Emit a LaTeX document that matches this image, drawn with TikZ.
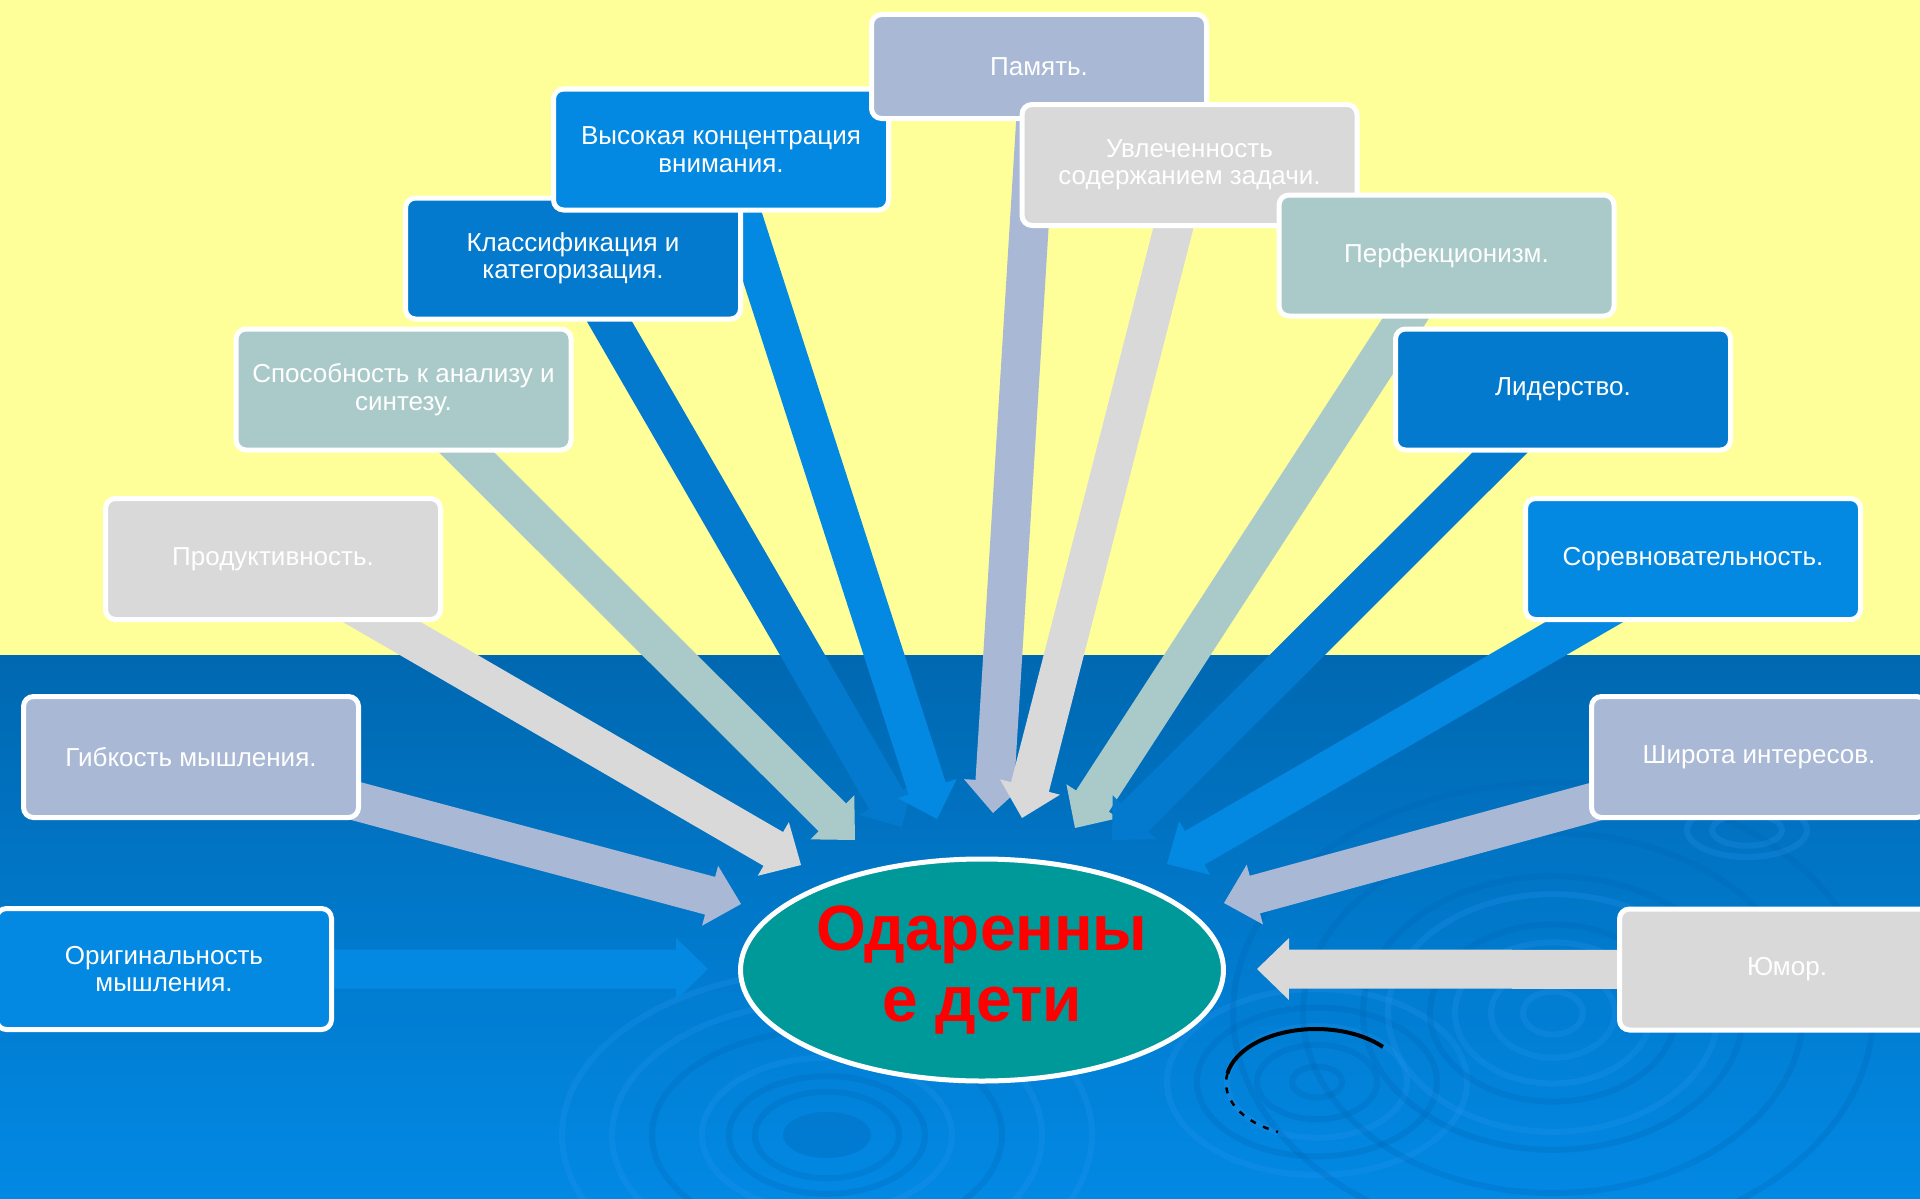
\documentclass[tikz,border=0pt]{standalone}
\usepackage{fontspec}
\setmainfont{Liberation Sans}
\usetikzlibrary{shapes.geometric,calc}
\pgfdeclarelayer{bglayer}
\pgfdeclarelayer{arrowlayer}
\pgfsetlayers{bglayer,arrowlayer,main}
\definecolor{yel}{RGB}{255,255,153}
\definecolor{lav}{RGB}{169,184,212}
\definecolor{lgray}{RGB}{217,217,217}
\definecolor{tealgray}{RGB}{170,202,202}
\definecolor{dblue}{RGB}{4,122,206}
\definecolor{bblue}{RGB}{4,137,227}
\definecolor{watertop}{RGB}{0,104,177}
\definecolor{watermid}{RGB}{0,122,207}
\definecolor{waterbot}{RGB}{2,137,228}
\definecolor{ovalfill}{RGB}{0,153,153}
\definecolor{ripdark}{RGB}{0,100,180}
\definecolor{riplight}{RGB}{40,150,240}
\newcommand{\blockarrow}[3]{%
  \coordinate (ab) at ($(#2)!32pt!(#1.center)$);
  \fill[#3] ($(#1.center)!19.5pt!90:(#2)$) -- ($(ab)!19.5pt!90:(#2)$) -- ($(ab)!31pt!90:(#2)$) -- (#2)
    -- ($(ab)!31pt!-90:(#2)$) -- ($(ab)!19.5pt!-90:(#2)$) -- ($(#1.center)!19.5pt!-90:(#2)$) -- cycle;
}
\begin{document}
\begin{tikzpicture}[x=1pt,y=-1pt,
  box/.style={rectangle, rounded corners=10pt, draw=white, line width=5pt,
    minimum width=335pt, minimum height=121pt, inner sep=0pt, text=white,
    align=center, font=\fontsize{26}{27.5}\selectfont},
  ripD/.style={draw=ripdark, line width=6pt, opacity=0.25},
  ripL/.style={draw=riplight, line width=6pt, opacity=0.25}]
\useasboundingbox (0,0) rectangle (1920,1199);

% boxes (stacking order matters)
\node[box, fill=dblue] (klass) at (573,258.5) {Классификация и\\категоризация.};
\node[box, fill=bblue] (vys) at (721,149.5) {Высокая концентрация\\внимания.};
\node[box, fill=lav, minimum height=104pt] (pam) at (1039,66.5) {Память.};
\node[box, fill=lgray] (uvl) at (1189.5,165) {Увлеченность\\содержанием задачи.};
\node[box, fill=tealgray] (perf) at (1446.5,255.5) {Перфекционизм.};
\node[box, fill=dblue] (lid) at (1563,389.5) {Лидерство.};
\node[box, fill=bblue] (sor) at (1693,559) {Соревновательность.};
\node[box, fill=lav] (shir) at (1759,757) {Широта интересов.};
\node[box, fill=lgray] (yum) at (1787,969.5) {Юмор.};
\node[box, fill=bblue] (orig) at (164,969) {Оригинальность\\мышления.};
\node[box, fill=lav] (gib) at (191,757) {Гибкость мышления.};
\node[box, fill=lgray] (prod) at (273,559) {Продуктивность.};
\node[box, fill=tealgray] (spos) at (403.5,389.5) {Способность к анализу и\\синтезу.};

\node[ellipse, draw=white, line width=5pt, fill=ovalfill, minimum width=483pt,
  minimum height=222pt, inner sep=0pt, text=red, align=center,
  font=\fontsize{64}{71}\selectfont\bfseries] (kids) at (982,970) {Одаренны\\е дети};

% arrow tips
\coordinate (t1) at (708,969);
\coordinate (t2) at (741,904);
\coordinate (t3) at (801,865);
\coordinate (t4) at (855,840);
\coordinate (t5) at (902,827);
\coordinate (t6) at (937,819);
\coordinate (t7) at (993,813);
\coordinate (t8) at (1022,818);
\coordinate (t9) at (1075,828);
\coordinate (t10) at (1112,840);
\coordinate (t11) at (1167,864);
\coordinate (t12) at (1224,903);
\coordinate (t13) at (1257,969);

\begin{pgfonlayer}{arrowlayer}
\blockarrow{orig}{t1}{bblue}
\blockarrow{gib}{t2}{lav}
\blockarrow{prod}{t3}{lgray}
\blockarrow{spos}{t4}{tealgray}
\blockarrow{klass}{t5}{dblue}
\blockarrow{vys}{t6}{bblue}
\blockarrow{pam}{t7}{lav}
\blockarrow{uvl}{t8}{lgray}
\blockarrow{perf}{t9}{tealgray}
\blockarrow{lid}{t10}{dblue}
\blockarrow{sor}{t11}{bblue}
\blockarrow{shir}{t12}{lav}
\blockarrow{yum}{t13}{lgray}
\end{pgfonlayer}

\begin{pgfonlayer}{bglayer}
\fill[yel] (0,0) rectangle (1920,656);
\shade[top color=watertop, middle color=watermid, bottom color=waterbot] (0,655) rectangle (1920,1199);
\begin{scope}
\clip (0,655) rectangle (1920,1199);
% ripple group A
\fill[ripdark, opacity=0.3] (827,1135) ellipse [x radius=44, y radius=23];
\foreach \r in {72,98,175} \draw[ripD] (827,1135) ellipse [x radius=\r, y radius=0.6*\r];
\foreach \r in {125,215,265} \draw[ripL] (827,1135) ellipse [x radius=\r, y radius=0.62*\r];
% ripple group B
\foreach \r in {25,60,120} \draw[ripD] (1317,1082) ellipse [x radius=\r, y radius=0.62*\r];
\foreach \r in {90,150} \draw[ripL] (1317,1082) ellipse [x radius=\r, y radius=0.62*\r];
% ripple group C
\foreach \r in {30,62,98,165} \draw[ripL] (1553,1013) ellipse [x radius=\r, y radius=0.72*\r];
\foreach \r in {123,190,250,320} \draw[ripD] (1553,1013) ellipse [x radius=\r, y radius=0.72*\r];
% ripple group D
\foreach \r in {35,60} \draw[ripL] (1747,830) ellipse [x radius=\r, y radius=0.45*\r];
% dark arc
\draw[black, line width=4pt] (1316,1083) ++(318:90 and 54) arc[start angle=318, end angle=190, x radius=90, y radius=54];
\draw[black, line width=2.5pt, dash pattern=on 6pt off 8pt] (1316,1083) ++(190:90 and 54) arc[start angle=190, end angle=115, x radius=90, y radius=54];
\end{scope}
\end{pgfonlayer}
\end{tikzpicture}
\end{document}
